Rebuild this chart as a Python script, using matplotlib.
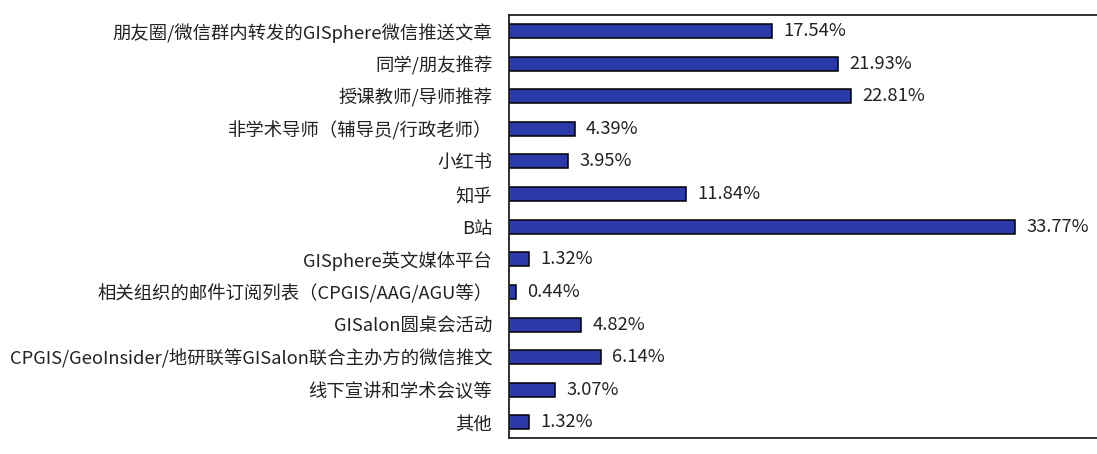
import matplotlib
matplotlib.use("Agg")
import matplotlib.pyplot as plt

plt.rcParams['font.family'] = ['Noto Sans CJK SC', 'DejaVu Sans']

categories = [
    "朋友圈/微信群内转发的GISphere微信推送文章",
    "同学/朋友推荐",
    "授课教师/导师推荐",
    "非学术导师（辅导员/行政老师）",
    "小红书",
    "知乎",
    "B站",
    "GISphere英文媒体平台",
    "相关组织的邮件订阅列表（CPGIS/AAG/AGU等）",
    "GISalon圆桌会活动",
    "CPGIS/GeoInsider/地研联等GISalon联合主办方的微信推文",
    "线下宣讲和学术会议等",
    "其他",
]
percents = [17.54, 21.93, 22.81, 4.39, 3.95, 11.84, 33.77, 1.32, 0.44, 4.82, 6.14, 3.07, 1.32]

fig = plt.figure(figsize=(10.97, 4.54), dpi=100)
ax = fig.add_axes([0.464, 0.035, 0.545, 0.932])

pos = list(range(len(categories)))
ax.barh(pos, percents, height=0.43, color="#2B3AA8", edgecolor="black", linewidth=1.1)

for y, v in zip(pos, percents):
    ax.text(v + 0.75, y, f"{v:.2f}%", va="center", ha="left", fontsize=13.2, color="#222222")

ax.set_yticks(pos)
ax.set_yticklabels(categories, fontsize=13.2, color="#222222")
ax.set_xticks([])
ax.tick_params(axis="y", length=0, pad=12)
ax.set_xlim(0, 39.9)
ax.set_ylim(12.48, -0.49)

for s in ax.spines.values():
    s.set_linewidth(1.3)
    s.set_color("#222222")

fig.savefig("out.png", dpi=100)
